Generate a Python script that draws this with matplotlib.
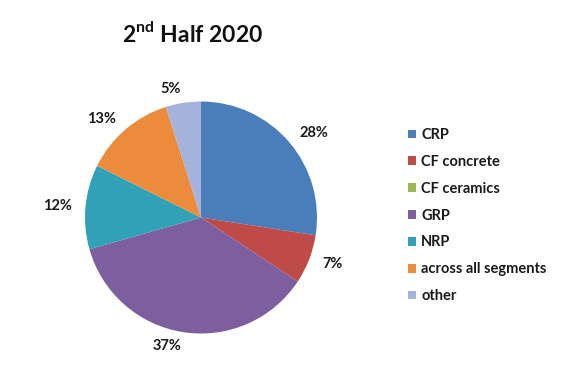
import matplotlib
matplotlib.use("Agg")
import matplotlib.pyplot as plt
from matplotlib.patches import Patch

# data
segments = ["CRP", "CF concrete", "CF ceramics", "GRP", "NRP",
            "across all segments", "other"]
shares = [28, 7, 0, 37, 12, 13, 5]
pct_labels = ["28%", "7%", "", "37%", "12%", "13%", "5%"]
colors = ["#4A7EBB", "#BE4B48", "#98B954", "#7D5FA0", "#31A1B8",
          "#EC8B3C", "#A3B3DB"]


def main():
    plt.rcParams['font.family'] = ['Lato', 'DejaVu Sans']
    plt.rcParams['mathtext.fontset'] = 'custom'
    plt.rcParams['mathtext.bf'] = 'Lato:bold'
    plt.rcParams['mathtext.rm'] = 'Lato'

    W, H = 572, 371
    fig = plt.figure(figsize=(W / 100, H / 100), dpi=100)

    # pie centre / radius in pixels
    cx, cy, r = 201, 217.5, 116
    ax = fig.add_axes([(cx - r) / W, (H - cy - r) / H, 2 * r / W, 2 * r / H])
    wedges, texts = ax.pie(shares, colors=colors, labels=pct_labels,
                           startangle=90, counterclock=False,
                           labeldistance=1.12, radius=1,
                           textprops=dict(fontsize=10.5, fontweight='bold',
                                          color='#1a1a1a'))
    ax.set_xlim(-1, 1)
    ax.set_ylim(-1, 1)
    ax.set_aspect('equal')
    ax.axis('off')

    fig.text(193 / W, 1 - 34 / H, r"2$^{\mathbf{nd}}$ Half 2020", ha='center',
             va='center', fontsize=16.5, fontweight='bold', color='#111111')

    handles = [Patch(facecolor=c, edgecolor='none') for c in colors]
    fig.legend(handles, segments, loc='upper left',
               bbox_to_anchor=(395 / W, 1 - 115 / H), frameon=False,
               handlelength=0.55, handleheight=0.55, handletextpad=0.35,
               labelspacing=0.88, prop=dict(size=10.5, weight='bold'),
               labelcolor='#1a1a1a')

    fig.savefig("out.png", dpi=100)


if __name__ == "__main__":
    main()
